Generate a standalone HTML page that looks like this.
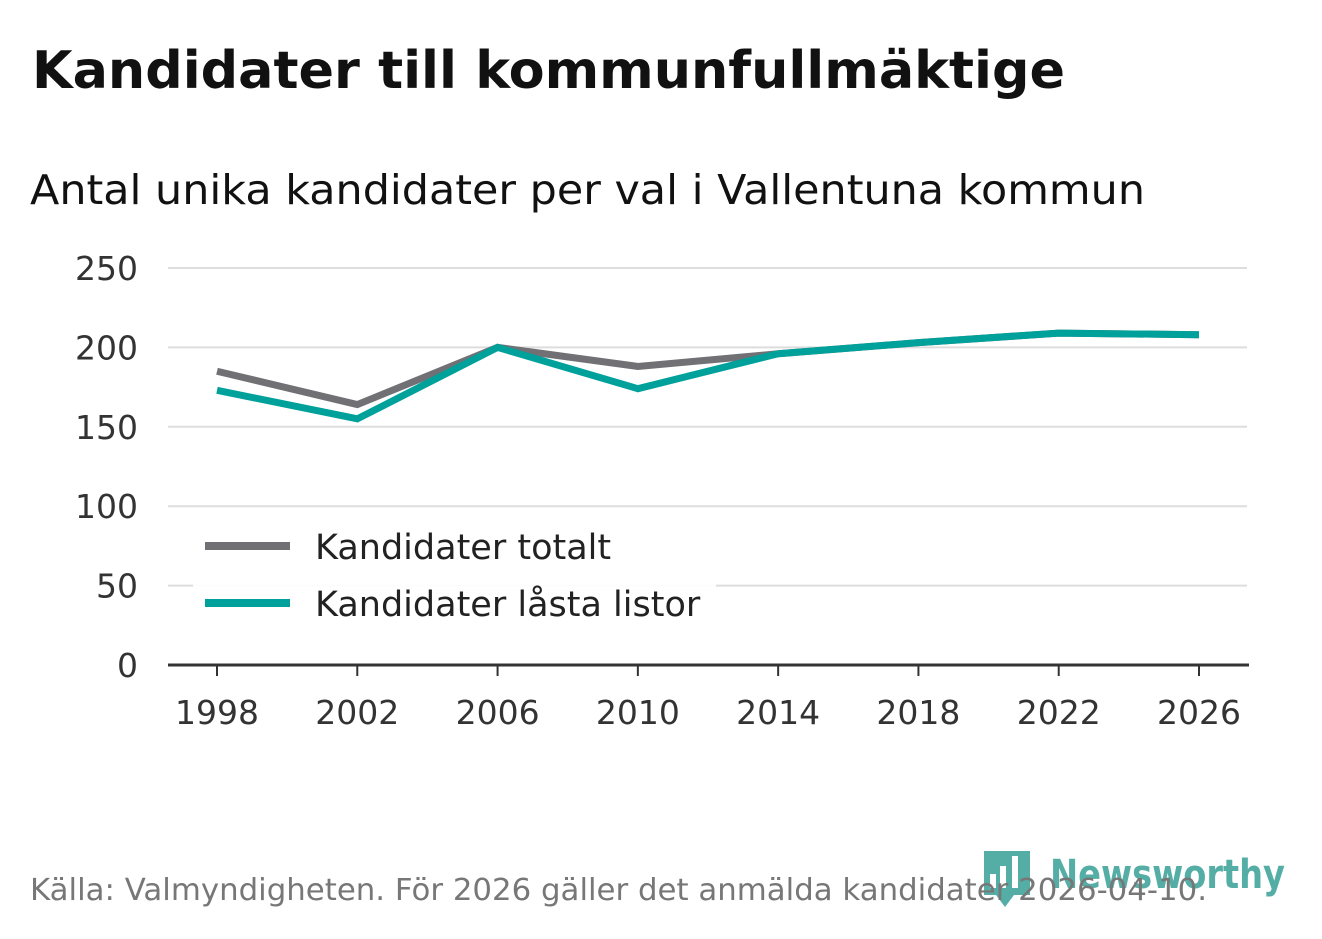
<!DOCTYPE html>
<html><head><meta charset="utf-8"><style>
body{margin:0;width:1322px;height:939px;background:#fff;font-family:"DejaVu Sans","Liberation Sans",sans-serif;overflow:hidden}
</style></head><body>
<svg width="1322" height="939" style="position:absolute;left:0;top:0">
<text x="32" y="88" font-size="52" font-weight="bold" fill="#111" textLength="1033" lengthAdjust="spacingAndGlyphs">Kandidater till kommunfullmäktige</text>
<text x="30" y="204" font-size="41" fill="#111" textLength="1115" lengthAdjust="spacingAndGlyphs">Antal unika kandidater per val i Vallentuna kommun</text>
<g id="grid"></g>
<g id="yt"></g>
<g id="xt"></g>
<g id="lines"></g>
<g>
<rect x="193" y="520" width="523" height="112" fill="#fff" fill-opacity="0.9"/>
<line x1="205" y1="546" x2="290" y2="546" stroke="#707075" stroke-width="8"/>
<text x="315" y="559" font-size="35" fill="#222">Kandidater totalt</text>
<line x1="205" y1="603" x2="290" y2="603" stroke="#00a19a" stroke-width="8"/>
<text x="315" y="616" font-size="35" fill="#222">Kandidater låsta listor</text>
</g>
<g opacity="0.8">
<path d="M984 851h46v44h-16l-9 12-9-12h-12z" fill="#2a9a90"/>
<rect x="990" y="874" width="6" height="14" fill="#fff"/><rect x="1000" y="866" width="6" height="22" fill="#fff"/><rect x="1012" y="856" width="6" height="32" fill="#fff"/>
<text x="1050" y="888" font-size="40" font-weight="bold" fill="#2a9a90" textLength="235" lengthAdjust="spacingAndGlyphs">Newsworthy</text>
</g>
<text x="30" y="900" font-size="30" fill="#777" textLength="1177" lengthAdjust="spacingAndGlyphs">Källa: Valmyndigheten. För 2026 gäller det anmälda kandidater 2026-04-10.</text>
</svg>
<script>
const years=[1998,2002,2006,2010,2014,2018,2022,2026];
const totalt=[185,164,200,188,196,203,209,208];
const lasta=[173,155,200,174,196,203,209,208];
const yTicks=[0,50,100,150,200,250];
const NS="http://www.w3.org/2000/svg";
const x=v=>217+(v-1998)*(1199-217)/28;
const y=v=>665-v*(665-268)/250;
function mk(t,a,p){const e=document.createElementNS(NS,t);for(const k in a)e.setAttribute(k,a[k]);p.appendChild(e);return e;}
const g=document.getElementById('grid'),yt=document.getElementById('yt'),xt=document.getElementById('xt'),L=document.getElementById('lines');
yTicks.forEach(v=>{
 if(v>0){const l=mk('line',{x1:168,x2:1247,y1:y(v),y2:y(v),stroke:'#ddd','stroke-width':2},g);
 
 }
 const t=mk('text',{x:138,y:y(v)+12,'font-size':33,fill:'#333','text-anchor':'end'},yt);t.textContent=v;
 
 
});
const ax=mk('line',{x1:168,x2:1249,y1:665,y2:665,stroke:'#333','stroke-width':3},g);


years.forEach(v=>{
 mk('line',{x1:x(v),x2:x(v),y1:665,y2:676,stroke:'#333','stroke-width':2},xt);
 const t=mk('text',{x:x(v),y:724,'font-size':33,fill:'#333','text-anchor':'middle'},xt);t.textContent=v;
 
 
});
[[totalt,'#707075','line-totalt'],[lasta,'#00a19a','line-lasta']].forEach(([d,c,n])=>{
 const p=mk('polyline',{points:d.map((v,i)=>x(years[i])+','+y(v)).join(' '),fill:'none',stroke:c,'stroke-width':7,'stroke-linejoin':'miter'},L);
 
 
});
</script>
</body></html>
